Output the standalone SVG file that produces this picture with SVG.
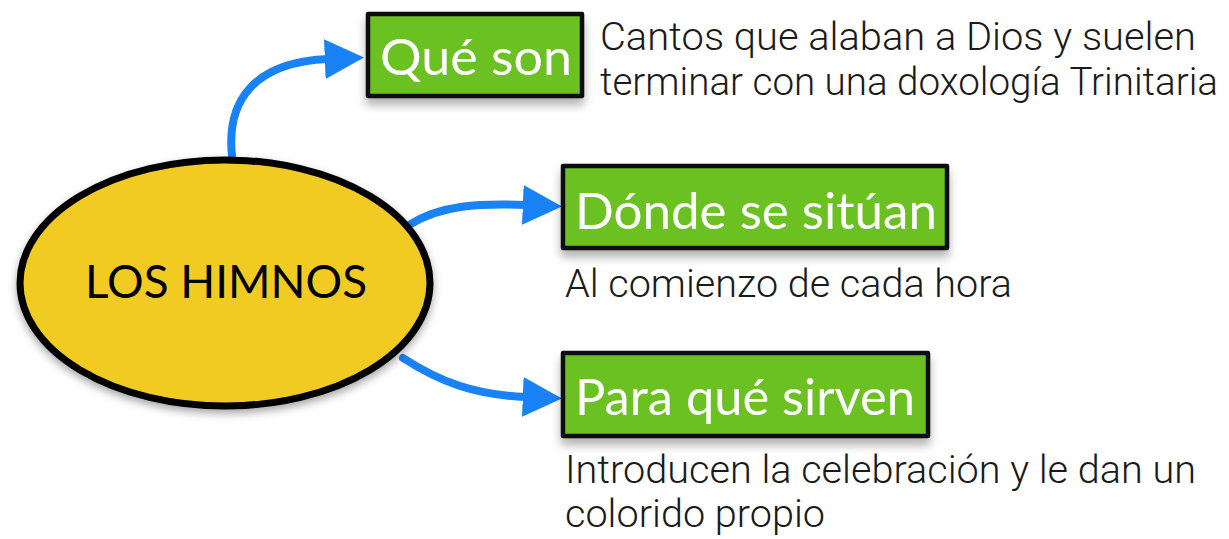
<svg xmlns="http://www.w3.org/2000/svg" width="1229" height="539" viewBox="0 0 1229 539">
<defs>
<filter id="sh" x="-10%" y="-10%" width="120%" height="140%">
<feDropShadow dx="0" dy="7" stdDeviation="5" flood-color="#000" flood-opacity="0.3"/>
</filter>
<filter id="esh" x="-10%" y="-10%" width="120%" height="130%">
<feDropShadow dx="0" dy="4" stdDeviation="4" flood-color="#000" flood-opacity="0.35"/>
</filter>
<marker id="ah" markerWidth="6" markerHeight="6" refX="0.4" refY="3" orient="auto" markerUnits="strokeWidth" viewBox="0 0 6 6">
<path d="M0,0.5 L4.9,3 L0,5.5 Z" fill="#1a82f7"/>
</marker>
</defs>
<style>
.box{fill:#6cc122;stroke:#111;stroke-width:4.5;stroke-linejoin:round}
.lbl{font-family:Lato,"Open Sans","Liberation Sans",sans-serif;fill:#fff;font-size:50px}
.desc{font-family:Roboto,"Liberation Sans",sans-serif;font-weight:300;fill:#1a1a1a;font-size:38px}
.con{fill:none;stroke:#1a82f7;stroke-width:8;stroke-linecap:round}
</style>
<rect width="1229" height="539" fill="#fff"/>
<g id="connectors">
<path class="con" d="M232,156 C226,100 255,62 328,59" marker-end="url(#ah)"/>
<path class="con" d="M409,225 C440,205 480,203 526,205" marker-end="url(#ah)"/>
<path class="con" d="M403,358 C440,382 475,395 526,397" marker-end="url(#ah)"/>
</g>
<g id="center">
<ellipse cx="225" cy="283" rx="205" ry="123" fill="#f1cb22" stroke="#000" stroke-width="7" filter="url(#esh)"/>
<text x="85" y="298" font-family="Lato,'Open Sans','Liberation Sans',sans-serif" font-size="46" fill="#000" textLength="282" lengthAdjust="spacingAndGlyphs">LOS HIMNOS</text>
</g>
<g id="que-son">
<rect class="box" x="368" y="14" width="214" height="82" filter="url(#sh)"/>
<text class="lbl" x="380" y="75" textLength="192" lengthAdjust="spacingAndGlyphs">Qué son</text>
<text class="desc" x="600" y="50" textLength="596" lengthAdjust="spacingAndGlyphs">Cantos que alaban a Dios y suelen</text>
<text class="desc" x="600" y="95" textLength="618" lengthAdjust="spacingAndGlyphs">terminar con una doxología Trinitaria</text>
</g>
<g id="donde">
<rect class="box" x="563" y="166" width="384" height="82" filter="url(#sh)"/>
<text class="lbl" x="575" y="229" textLength="362" lengthAdjust="spacingAndGlyphs">Dónde se sitúan</text>
<text class="desc" x="565" y="297" textLength="447" lengthAdjust="spacingAndGlyphs">Al comienzo de cada hora</text>
</g>
<g id="para-que">
<rect class="box" x="563" y="353" width="365" height="83" filter="url(#sh)"/>
<text class="lbl" x="575" y="415" textLength="340" lengthAdjust="spacingAndGlyphs">Para qué sirven</text>
<text class="desc" x="565" y="483" textLength="631" lengthAdjust="spacingAndGlyphs">Introducen la celebración y le dan un</text>
<text class="desc" x="565" y="527" textLength="260" lengthAdjust="spacingAndGlyphs">colorido propio</text>
</g>
</svg>
